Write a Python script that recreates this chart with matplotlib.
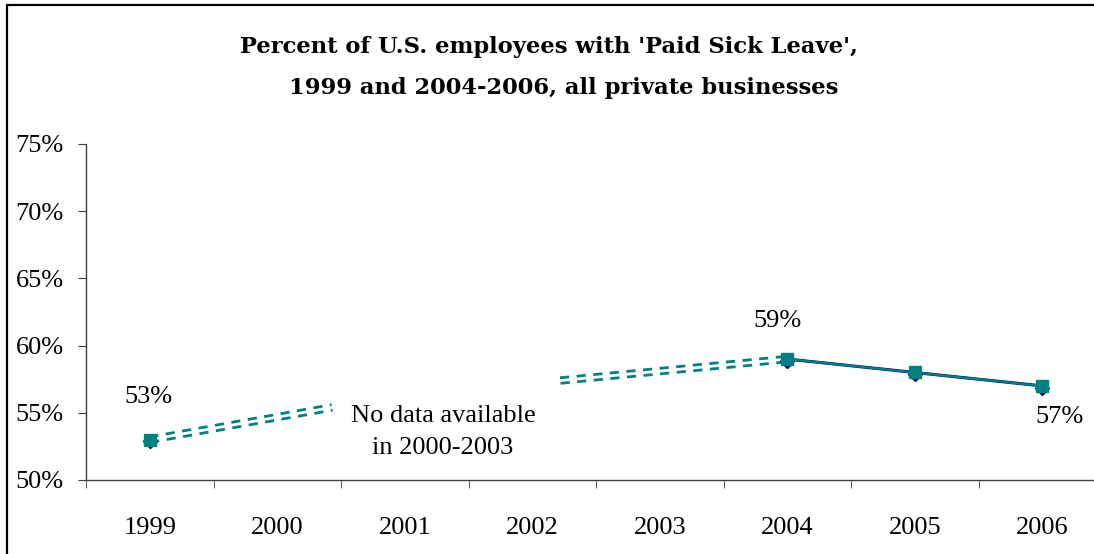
import matplotlib
matplotlib.use("Agg")
import matplotlib.pyplot as plt
import matplotlib.patches as patches
import numpy as np

years = ['1999', '2000', '2001', '2002', '2003', '2004', '2005', '2006']
share = [53, np.nan, np.nan, np.nan, np.nan, 59, 58, 57]
labels = {'1999': '53%', '2004': '59%', '2006': '57%'}
yticks = [50, 55, 60, 65, 70, 75]

# loose ends of the two dashed "no data" connectors (category position, %)
gap_out = (1.43, 55.4)   # after 1999
gap_in = (3.22, 57.4)    # before 2004

teal = '#008080'
navy = '#000080'
serif = ['Liberation Serif', 'DejaVu Serif']

fig = plt.figure(figsize=(10.94, 5.54), dpi=100)
ax = fig.add_axes([86 / 1094, 74 / 554, 1020 / 1094, 336 / 554])

x = np.arange(len(years))
y = np.array(share, dtype=float)
known = ~np.isnan(y)
xk, yk = x[known], y[known]

# double dashed connectors over the missing years
for seg_x, seg_y in [([xk[0], gap_out[0]], [yk[0], gap_out[1]]),
                     ([gap_in[0], xk[1]], [gap_in[1], yk[1]])]:
    ax.plot(seg_x, seg_y, color=teal, lw=6, ls=(0, (1.1, 0.9)),
            dash_capstyle='butt', zorder=2)
    ax.plot(seg_x, seg_y, color='white', lw=2, zorder=2.1)

# real series 2004-2006
ax.plot(xk[1:], yk[1:], color=navy, lw=2.2, zorder=3)
ax.plot(xk[1:], yk[1:], color=teal, lw=1.6, zorder=3.1)
ax.plot(xk, yk - 0.12, ls='none', marker='D', ms=7, color=navy, zorder=4)
ax.plot(xk, yk, ls='none', marker='s', ms=9, color=teal, zorder=5)

offsets = {'1999': (-1, 43), '2004': (-10, 38), '2006': (17, -31)}
for yr, txt in labels.items():
    i = years.index(yr)
    ax.annotate(txt, (x[i], y[i]), xytext=offsets[yr], textcoords='offset pixels',
                ha='center', va='center', fontsize=19, family=serif, zorder=6)

ax.text(2.30, 53.6, 'No data available\nin 2000-2003', ha='center', va='center',
        fontsize=19, family=serif, linespacing=1.6, zorder=7)

ax.set_xlim(-0.5, len(years) - 0.5)
ax.set_ylim(50, 75)
ax.set_yticks(yticks)
ax.set_yticklabels([f'{v}%' for v in yticks], family=serif, fontsize=19)
ax.set_xticks(x)
ax.set_xticklabels(years, family=serif, fontsize=19)
ax.set_xticks(np.arange(len(years)) - 0.5, minor=True)
ax.tick_params(axis='x', which='major', length=0, pad=27)
ax.tick_params(axis='x', which='minor', length=6, direction='out', color='#404040')
ax.tick_params(axis='y', length=6, direction='out', color='#404040', pad=10)

for side in ['top', 'right']:
    ax.spines[side].set_visible(False)
for side in ['left', 'bottom']:
    ax.spines[side].set_color('#404040')
    ax.spines[side].set_linewidth(1)

title_font = dict(ha='center', va='center', fontsize=16.3, fontweight='bold',
                  family=['DejaVu Serif'])
fig.text(0.502, 1 - 47 / 554, "Percent of U.S. employees with 'Paid Sick Leave',", **title_font)
fig.text(0.515, 1 - 88 / 554, '1999 and 2004-2006, all private businesses', **title_font)

border = patches.Rectangle((7 / 1094, -0.2), 1.2, 1.2 - 5 / 554, transform=fig.transFigure,
                           fill=False, edgecolor='black', lw=1.6, clip_on=False)
fig.patches.append(border)

fig.savefig('out.png', dpi=100)
